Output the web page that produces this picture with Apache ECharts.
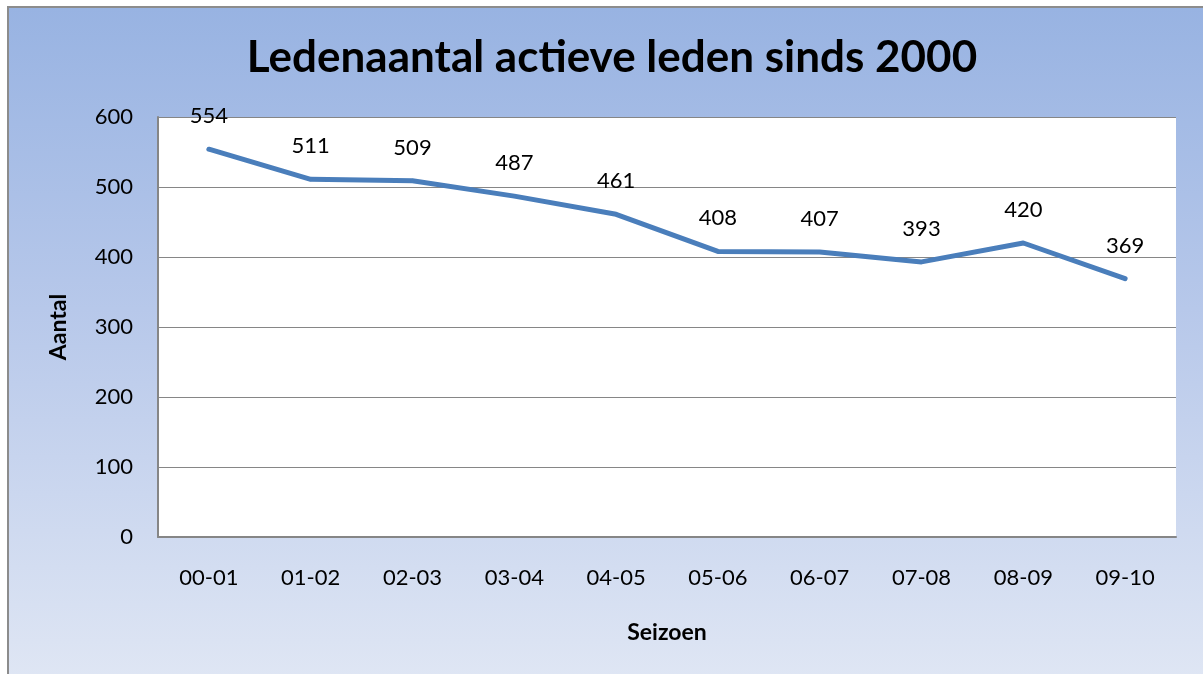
<!DOCTYPE html>
<html>
<head>
<meta charset="utf-8">
<script src="https://cdn.jsdelivr.net/npm/echarts@6/dist/echarts.min.js"></script>
<style>
  html, body { margin: 0; padding: 0; background: #fff; }
  #frame {
    position: absolute; left: 7px; top: 6px; width: 1200px; height: 670px;
    border-left: 2px solid #8c8c8c; border-top: 2px solid #8c8c8c;
    background: linear-gradient(to bottom, #98b3e2 0%, #b7c8ea 45%, #dfe6f4 100%);
  }
  #chart { position: absolute; left: 0; top: 0; width: 1203px; height: 674px; }
</style>
</head>
<body>
<div id="frame"></div>
<div id="chart"></div>
<script>
  // seizoenen en ledenaantallen
  const seasons = ['00-01', '01-02', '02-03', '03-04', '04-05', '05-06', '06-07', '07-08', '08-09', '09-10'];
  const members = [554, 511, 509, 487, 461, 408, 407, 393, 420, 369];

  const chart = echarts.init(document.getElementById('chart'));
  const font = 'Lato, "Open Sans", sans-serif';

  chart.setOption({
    backgroundColor: 'transparent',
    title: {
      text: 'Ledenaantal actieve leden sinds 2000',
      left: 607, top: 31, textAlign: 'center',
      textStyle: { fontFamily: font, fontSize: 44, fontWeight: 'bold', color: '#000' }
    },
    grid: {
      left: 158, top: 117, right: 27, bottom: 137,
      show: true, backgroundColor: '#fff', borderWidth: 0
    },
    xAxis: {
      type: 'category',
      data: seasons,
      boundaryGap: true,
      name: 'Seizoen',
      nameLocation: 'middle',
      nameGap: 84,
      nameTextStyle: { fontFamily: font, fontSize: 23, fontWeight: 'bold', color: '#000' },
      axisLine: { lineStyle: { color: '#868686', width: 2 } },
      axisTick: { show: false },
      axisLabel: { margin: 30, fontFamily: font, fontSize: 22, color: '#000' }
    },
    yAxis: {
      type: 'value',
      min: 0, max: 600, interval: 100,
      name: 'Aantal',
      nameLocation: 'middle',
      nameGap: 88,
      nameRotate: 90,
      nameTextStyle: { fontFamily: font, fontSize: 23, fontWeight: 'bold', color: '#000' },
      axisLine: { show: true, lineStyle: { color: '#868686', width: 2 } },
      axisTick: { show: false },
      axisLabel: { margin: 25, fontFamily: font, fontSize: 22, color: '#000' },
      splitLine: { lineStyle: { color: '#868686', width: 1 } }
    },
    series: [{
      type: 'line',
      data: members,
      symbol: 'circle',
      symbolSize: 4,
      lineStyle: { color: '#4a7ebb', width: 5, cap: 'round', join: 'round' },
      itemStyle: { color: '#4a7ebb' },
      label: {
        show: true, position: 'top', distance: 20,
        fontFamily: font, fontSize: 22, color: '#000'
      },
      animation: false
    }]
  });
</script>
</body>
</html>
